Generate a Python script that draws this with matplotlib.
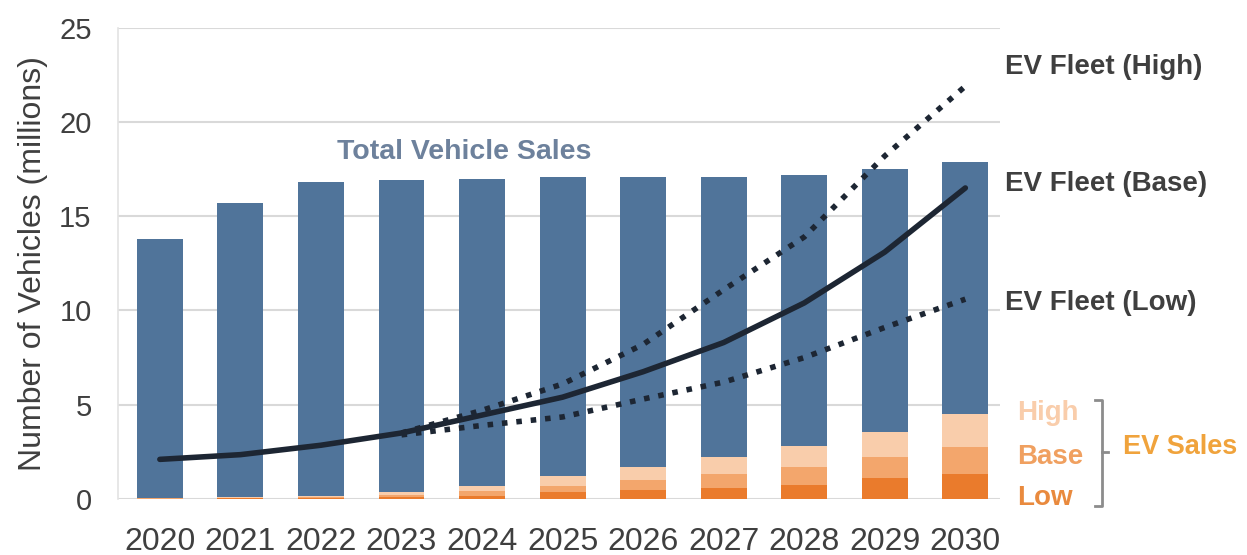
import matplotlib.pyplot as plt
import matplotlib.transforms as mtransforms
import numpy as np

plt.rcParams['font.family'] = ['Liberation Sans', 'DejaVu Sans']

# data (millions of vehicles)
years = [2020, 2021, 2022, 2023, 2024, 2025, 2026, 2027, 2028, 2029, 2030]
total_sales = [13.8, 15.7, 16.8, 16.9, 17.0, 17.1, 17.1, 17.1, 17.2, 17.5, 17.9]
ev_sales_low = [0.02, 0.04, 0.06, 0.1, 0.15, 0.35, 0.45, 0.6, 0.75, 1.1, 1.3]
ev_sales_base = [0.03, 0.06, 0.1, 0.2, 0.4, 0.7, 1.0, 1.3, 1.7, 2.2, 2.75]
ev_sales_high = [0.05, 0.08, 0.15, 0.35, 0.7, 1.2, 1.7, 2.2, 2.8, 3.55, 4.5]

fleet_base = [2.1, 2.35, 2.85, 3.5, 4.45, 5.4, 6.75, 8.3, 10.4, 13.1, 16.5]
fleet_years_proj = [2023, 2024, 2025, 2026, 2027, 2028, 2029, 2030]
fleet_high = [3.5, 4.7, 6.1, 8.2, 11.1, 13.9, 18.2, 21.9]
fleet_low = [3.4, 3.9, 4.35, 5.3, 6.2, 7.5, 9.1, 10.6]

blue = '#50749a'
orange_low = '#ea7b2c'
orange_base = '#f3a66c'
orange_high = '#f9cdab'
line_col = '#1d2633'
text_gray = '#3f3f3f'

fig = plt.figure(figsize=(12.47, 5.55), dpi=100)
ax = fig.add_axes([0.0946, 0.101, 0.7073, 0.849])

x = np.arange(len(years))
w = 0.57
low = np.array(ev_sales_low)
base = np.array(ev_sales_base)
high = np.array(ev_sales_high)
tot = np.array(total_sales)

# stacked bars: EV sales scenarios at the bottom, rest of total sales on top
ax.bar(x, low, w, color=orange_low, zorder=2)
ax.bar(x, base - low, w, bottom=low, color=orange_base, zorder=2)
ax.bar(x, high - base, w, bottom=base, color=orange_high, zorder=2)
ax.bar(x, tot - high, w, bottom=high, color=blue, zorder=2)

# EV fleet lines
xp = np.array(fleet_years_proj) - years[0]
ax.plot(xp, fleet_high, color=line_col, lw=4, linestyle=(0, (1, 1.6)), zorder=3)
ax.plot(xp, fleet_low, color=line_col, lw=4, linestyle=(0, (1, 1.6)), zorder=3)
ax.plot(x, fleet_base, color=line_col, lw=4, solid_capstyle='round',
        solid_joinstyle='round', zorder=4)

ax.set_xlim(-0.52, 10.43)
ax.set_ylim(0, 25)
ax.set_yticks([0, 5, 10, 15, 20, 25])
ax.set_xticks(x)
ax.set_xticklabels([str(y) for y in years])
ax.tick_params(axis='both', length=0, colors=text_gray)
ax.tick_params(axis='x', labelsize=23, pad=20)
ax.tick_params(axis='y', labelsize=21, pad=19)
ax.grid(axis='y', color='#d9d9d9', lw=1.5, zorder=0)
for s in ['top', 'right', 'bottom']:
    ax.spines[s].set_visible(False)
ax.spines['left'].set_color('#e3e3e3')
ax.spines['left'].set_linewidth(1.2)
ax.set_ylabel('Number of Vehicles (millions)', fontsize=23, color=text_gray, labelpad=8)

ax.text(3.78, 18.4, 'Total Vehicle Sales', fontsize=20.5, fontweight='bold',
        color='#6d819c', ha='center', va='center', zorder=5)

# right side annotations
tr = mtransforms.blended_transform_factory(ax.transAxes, ax.transData)
for label, yv in [('EV Fleet (High)', 22.9), ('EV Fleet (Base)', 16.7), ('EV Fleet (Low)', 10.4)]:
    ax.text(1.006, yv, label, transform=tr, fontsize=20, fontweight='bold',
            color=text_gray, ha='left', va='center', clip_on=False)

for label, yv, c in [('High', 4.55, orange_high), ('Base', 2.2, '#f0a060'), ('Low', 0.05, '#e98a3e')]:
    ax.text(1.019, yv, label, transform=tr, fontsize=20, fontweight='bold',
            color=c, ha='left', va='center', clip_on=False)

bx = 1.116
ax.plot([bx - 0.008, bx, bx, bx - 0.008], [5.25, 5.25, -0.4, -0.4], transform=tr,
        color='#8c8c8c', lw=2, clip_on=False)
ax.plot([bx, bx + 0.007], [2.5, 2.5], transform=tr, color='#8c8c8c', lw=2, clip_on=False)
ax.text(1.14, 2.75, 'EV Sales', transform=tr, fontsize=19.5, fontweight='bold',
        color='#f0a33c', ha='left', va='center', clip_on=False)

fig.savefig('out.png', dpi=100)
